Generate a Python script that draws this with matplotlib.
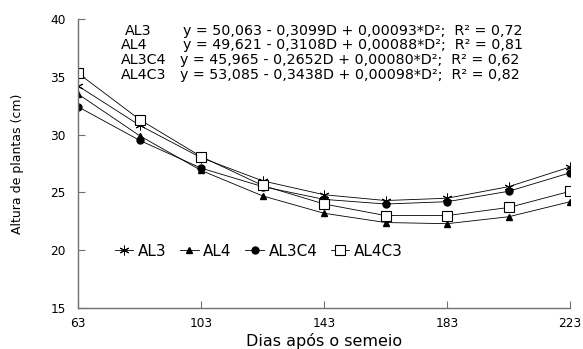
import numpy as np
import matplotlib.pyplot as plt

plt.rcParams['font.family'] = ['DejaVu Sans']

dias = [63, 83, 103, 123, 143, 163, 183, 203, 223]
al3 = [34.2, 30.8, 28.0, 26.0, 24.8, 24.3, 24.5, 25.5, 27.2]
al4 = [33.5, 29.9, 26.9, 24.7, 23.2, 22.4, 22.3, 22.9, 24.2]
al3c4 = [32.4, 29.5, 27.1, 25.5, 24.4, 24.0, 24.2, 25.1, 26.7]
al4c3 = [35.3, 31.3, 28.1, 25.6, 24.0, 23.0, 23.0, 23.7, 25.1]

nomes = ['AL3', 'AL4', 'AL3C4', 'AL4C3']
equacoes = ['y = 50,063 - 0,3099D + 0,00093*D\u00b2;  R\u00b2 = 0,72',
            'y = 49,621 - 0,3108D + 0,00088*D\u00b2;  R\u00b2 = 0,81',
            'y = 45,965 - 0,2652D + 0,00080*D\u00b2;  R\u00b2 = 0,62',
            'y = 53,085 - 0,3438D + 0,00098*D\u00b2;  R\u00b2 = 0,82']

fig = plt.figure(figsize=(5.83, 3.49), dpi=100)
ax = fig.add_axes([0.134, 0.117, 0.844, 0.829])

estilos = [dict(marker=(6, 2, 0), ms=7, mfc='black', mec='black', mew=0.7),
           dict(marker='^', ms=5, mfc='black', mec='black'),
           dict(marker='o', ms=5, mfc='black', mec='black'),
           dict(marker='s', ms=6.5, mfc='white', mec='black', mew=0.8)]

for serie, nome, st in zip([al3, al4, al3c4, al4c3], nomes, estilos):
    ax.plot(dias, serie, color='black', lw=0.6, label=nome, **st)

ax.set_xlim(63, 223)
ax.set_ylim(15, 40)
ax.set_xticks([63, 103, 143, 183, 223])
ax.set_yticks([15, 20, 25, 30, 35, 40])
ax.tick_params(direction='in', length=5, width=0.8, color='#707070',
               labelsize=8.7)
ax.tick_params(axis='x', pad=6.5)
ax.tick_params(axis='y', pad=9)
for s in ['top', 'right']:
    ax.spines[s].set_visible(False)
for s in ['left', 'bottom']:
    ax.spines[s].set_color('#707070')
    ax.spines[s].set_linewidth(1.0)

ax.set_xlabel('Dias após o semeio', fontsize=11.5, labelpad=2)
ax.set_ylabel('Altura de plantas (cm)', fontsize=9, labelpad=19)

xs_nome = [78.3, 76.9, 76.9, 76.9]
xs_eq = [97.1, 97.1, 96.2, 96.2]
ys_txt = [38.96, 37.75, 36.45, 35.16]
for nome, eq, xn, xe, yt in zip(nomes, equacoes, xs_nome, xs_eq, ys_txt):
    ax.text(xn, yt, nome, fontsize=10.3, va='center', ha='left')
    ax.text(xe, yt, eq, fontsize=10.3, va='center', ha='left')

ax.legend(loc='center left', bbox_to_anchor=(0.075, 0.197), ncol=4,
          frameon=False, fontsize=11, handlelength=1.2, handletextpad=0.3,
          columnspacing=0.9, borderpad=0, borderaxespad=0)

fig.savefig('out.png', dpi=100)
